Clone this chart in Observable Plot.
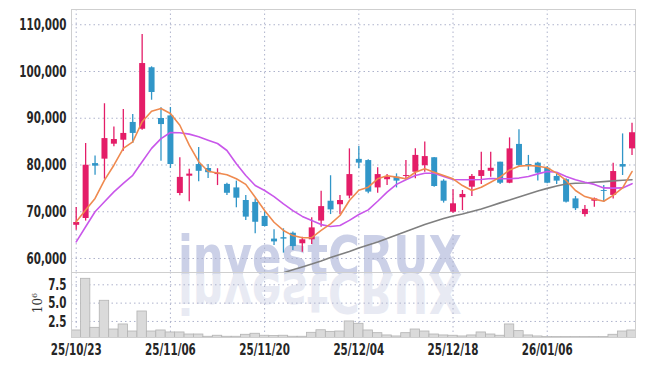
<!DOCTYPE html>
<html><head><meta charset="utf-8">
<script src="https://cdn.jsdelivr.net/npm/d3@7"></script>
<script src="https://cdn.jsdelivr.net/npm/@observablehq/plot@0.6"></script>
<style>
body{margin:0;background:#fff;}
#wrap{position:relative;width:645px;height:366px;overflow:hidden;}
#wrap > svg, #wrap > div{position:absolute;left:0;}
#vlabel{top:288px;left:20px !important;width:30px;height:30px;font:12px "DejaVu Serif",serif;color:#333;transform:rotate(-90deg);transform-origin:center;text-align:center;line-height:30px;}
</style></head><body><div id="wrap"></div>
<script>
const dates = ["25/10/23","25/10/24","25/10/27","25/10/28","25/10/29","25/10/30","25/10/31","25/11/03","25/11/04","25/11/05",
"25/11/06","25/11/07","25/11/10","25/11/11","25/11/12","25/11/13","25/11/14","25/11/17","25/11/18","25/11/19",
"25/11/20","25/11/21","25/11/24","25/11/25","25/11/26","25/11/27","25/11/28","25/12/01","25/12/02","25/12/03",
"25/12/04","25/12/05","25/12/08","25/12/09","25/12/10","25/12/11","25/12/12","25/12/15","25/12/16","25/12/17",
"25/12/18","25/12/19","25/12/22","25/12/23","25/12/24","25/12/26","25/12/29","25/12/30","26/01/02","26/01/05",
"26/01/06","26/01/07","26/01/08","26/01/09","26/01/12","26/01/13","26/01/14","26/01/15","26/01/16","26/01/19"];
const open = [67100,68550,80300,81250,84450,85300,89100,87650,100800,89950,90500,73900,77600,80100,79250,77950,75850,75100,72400,72000,69000,64150,64450,65400,63150,64000,68000,72250,71500,73350,81200,80950,75100,76850,77400,77550,78450,79850,81550,76550,69900,73000,75250,77550,78650,80600,76100,84400,80100,80400,79300,77550,76850,72750,69400,72250,74550,73500,80100,83450];
const close = [67700,79950,79750,85650,85450,86750,86750,101700,95500,88650,80100,77350,78050,78650,78350,78250,73950,72900,68850,67750,66850,63550,64150,62550,64000,66550,71100,70400,72400,77950,80400,74200,77950,77400,76550,77750,82050,81800,75400,72250,71700,73700,77550,78800,79300,76100,83450,79900,79750,78250,76100,76550,72050,70650,70500,72750,74350,78600,79550,86900];
const high = [70900,84600,81900,93100,88150,91850,90800,107900,101000,92250,92300,81550,79100,83750,80100,79200,76100,76550,73500,72700,70100,66150,66350,65650,64550,68700,74400,77700,73500,83450,83950,81100,79400,77950,78100,80950,83450,84900,81600,76850,74700,74550,77950,82750,82750,80600,85800,87550,82050,80600,79700,78100,77050,73250,71350,72950,75600,80400,86650,88950];
const low = [66050,68000,77800,76950,83900,82950,84600,87450,93850,80800,79250,73400,72150,76400,77100,75600,73500,70850,68150,65300,66750,62800,61150,61700,61350,63000,66700,69400,69400,72750,79200,73850,73950,75600,75100,76700,77050,78450,75250,71850,69700,70250,73250,75850,77400,75850,76000,79700,78800,76550,76000,75850,71850,70250,68850,70950,72050,72750,77750,82050];
const ma5 = [67850,70350,72850,76750,79950,83550,84950,89250,91500,92100,91000,88500,84250,80700,78650,78300,77900,77050,75850,73100,70250,67750,66000,64900,64450,64450,66000,67400,69200,72400,74600,75250,77050,77700,77400,77050,78450,79200,78450,77750,77050,75600,74550,75250,76300,77400,78950,79750,79900,79750,79400,78250,76700,74550,73250,72700,72250,73500,75100,78600];
const ma10 = [63550,66800,70000,72150,74250,76050,77800,80700,83550,85650,86950,86900,86600,86050,85300,84600,83100,80250,77750,75600,74550,73250,71700,70250,69000,68150,67250,66850,67050,68150,69400,70400,72250,74200,75850,76850,77750,78250,78250,77550,76900,76850,76850,76900,77100,77050,77050,77200,77550,78100,78600,78450,77550,76850,76300,75850,75100,75050,75100,76000];
const ma60 = [null,null,null,null,null,null,null,null,null,null,null,null,null,null,null,null,null,null,null,null,null,
56260,56950,57600,58200,58800,59450,60200,60850,61500,62250,62900,63550,64300,65050,65800,66500,67250,67900,68550,69100,69500,70050,70600,71250,71900,72500,73150,73800,74450,75000,75500,75950,76100,76150,76300,76450,76600,76750,76850];
const volume = [1.27,8.32,1.63,5.32,1.40,2.09,1.13,3.86,1.13,1.27,1.0,1.0,0.72,0.72,0.41,0.55,0.41,0.41,0.68,0.82,0.55,0.5,0.55,0.41,0.41,0.95,1.3,1.08,1.13,2.5,2.18,1.27,0.9,0.59,0.45,0.9,1.4,1.13,0.72,0.59,0.55,0.45,0.59,1.0,0.72,0.55,2.09,1.18,0.59,0.45,0.36,0.36,0.36,0.36,0.36,0.36,0.36,0.68,1.13,1.27];
const xTickDates = ["25/10/23","25/11/06","25/11/20","25/12/04","25/12/18","26/01/06"];
const priceTicks = [60000,70000,80000,90000,100000,110000];
const volTicks = [2.5,5.0,7.5];

const UP = "#e41d68", DOWN = "#3196c8";
const rows = dates.map((d,i)=>({i, date:d, open:open[i], close:close[i], high:high[i], low:low[i],
  ma5:ma5[i], ma10:ma10[i], ma60:ma60[i], volume:volume[i]}));
const xTicks = xTickDates.map(d => dates.indexOf(d));
const xDomain = [-0.5, 59.37];
const font = '"Liberation Sans Narrow","DejaVu Sans Condensed",sans-serif';
const baseStyle = {background:"none", fontFamily:font, fontSize:"16px", fontWeight:"bold", color:"#262626", overflow:"visible"};
const gridStyle = {stroke:"#aeb3cc", strokeOpacity:1, strokeDasharray:"1.5,3", strokeWidth:1};
const colorOf = d => d.close >= d.open ? UP : DOWN;

const wrap = document.getElementById("wrap");

// watermark
const wm = d3.create("svg").attr("width",645).attr("height",366).style("top","0px");
wm.append("text").text("investCRUX").attr("x",178).attr("y",275).attr("textLength",284)
  .attr("lengthAdjust","spacingAndGlyphs").attr("font-family",font).attr("font-weight","bold")
  .attr("font-size",55).attr("fill","#cbd0e7");
wm.append("text").text("investCRUX").attr("x",178).attr("y",275).attr("textLength",284)
  .attr("lengthAdjust","spacingAndGlyphs").attr("font-family",font).attr("font-weight","bold")
  .attr("font-size",55).attr("fill","#e8eaf3")
  .attr("transform","translate(0,549) scale(1,-1)");
wrap.appendChild(wm.node());

function narrow(svg, k) {
  d3.select(svg).selectAll('g[aria-label$="tick label"] text').each(function() {
    const t = this.getAttribute("transform") || "";
    this.setAttribute("transform", t + ` scale(${k},1)`);
  });
}

const main = Plot.plot({
  width:645, height:272, marginTop:9, marginBottom:0, marginLeft:71, marginRight:10,
  style: baseStyle,
  x:{type:"linear", domain:xDomain, axis:null},
  y:{domain:[57005,113260]},
  color:{type:"identity"},
  marks:[
    Plot.gridY(priceTicks, gridStyle),
    Plot.gridX(xTicks, gridStyle),
    Plot.frame({stroke:"#cfcfcf"}),
    Plot.ruleX(rows, {x:"i", y1:"low", y2:"high", stroke:colorOf, strokeWidth:1.3}),
    Plot.ruleX(rows, {x:"i", y1:"open", y2:"close", stroke:colorOf, strokeWidth:6}),
    Plot.line(rows, {x:"i", y:"ma60", stroke:"#7f7f7f", strokeWidth:1.6, clip:true}),
    Plot.line(rows, {x:"i", y:"ma10", stroke:"#c957ea", strokeWidth:1.6, clip:true}),
    Plot.line(rows, {x:"i", y:"ma5", stroke:"#ef8a4f", strokeWidth:1.6, clip:true}),
    Plot.axisY(priceTicks, {tickFormat:d3.format(","), tickSize:0, tickPadding:5, label:null})
  ]
});
main.style.top = "0px";
narrow(main, 0.72);
wrap.appendChild(main);

const vol = Plot.plot({
  width:645, height:94, marginTop:0, marginBottom:29, marginLeft:71, marginRight:10,
  style: baseStyle,
  x:{type:"linear", domain:xDomain},
  y:{domain:[0.31,9.18]},
  marks:[
    Plot.gridY(volTicks, gridStyle),
    Plot.gridX(xTicks, gridStyle),
    Plot.rectY(rows, {x1:d=>d.i-0.5, x2:d=>d.i+0.5, y:"volume", fill:"#dadada", stroke:"#b3b3b3", strokeWidth:0.8, clip:true}),
    Plot.frame({stroke:"#cfcfcf"}),
    Plot.axisY(volTicks, {tickFormat:d3.format(".1f"), tickSize:0, tickPadding:5, label:null}),
    Plot.axisX(xTicks, {tickFormat:i=>dates[i], tickSize:0, tickPadding:6, label:null})
  ]
});
vol.style.top = "272px";
narrow(vol, 0.72);
wrap.appendChild(vol);

const lab = document.createElement("div");
lab.id = "vlabel";
lab.innerHTML = "10<sup style='font-size:8px'>6</sup>";
wrap.appendChild(lab);
</script>
</body></html>
